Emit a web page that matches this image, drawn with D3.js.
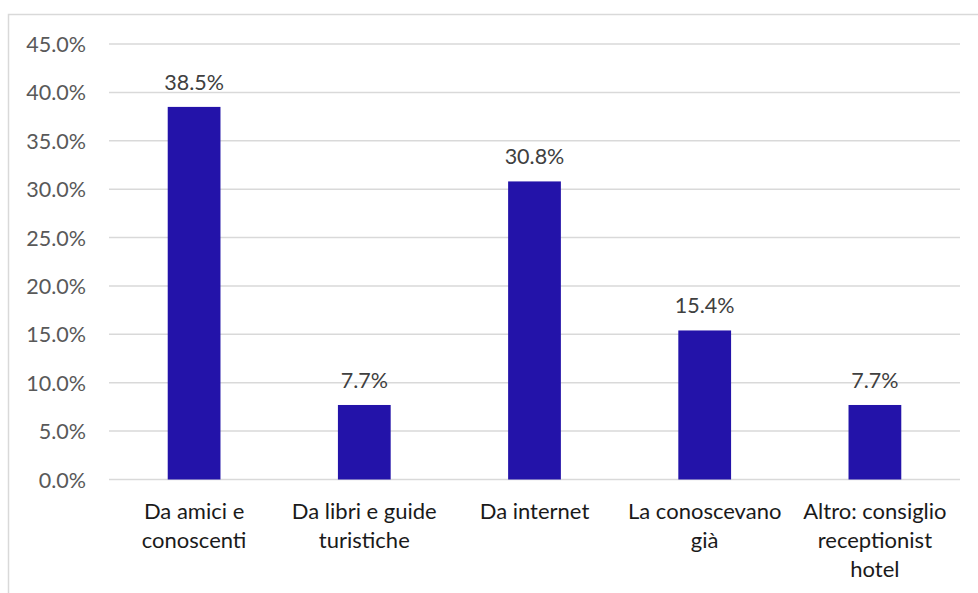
<!DOCTYPE html>
<html>
<head>
<meta charset="utf-8">
<script src="https://cdn.jsdelivr.net/npm/d3@7"></script>
<style>
  html, body { margin: 0; padding: 0; background: #fff; }
  svg { display: block; }
</style>
</head>
<body>
<svg id="chart" width="978" height="593"></svg>
<script>
// Come hanno conosciuto il luogo: quote percentuali per canale
const categories = [
  "Da amici e conoscenti",
  "Da libri e guide turistiche",
  "Da internet",
  "La conoscevano già",
  "Altro: consiglio receptionist hotel"
];
// righe delle etichette di categoria sull'asse x
const categoryLines = [
  ["Da amici e", "conoscenti"],
  ["Da libri e guide", "turistiche"],
  ["Da internet"],
  ["La conoscevano", "già"],
  ["Altro: consiglio", "receptionist", "hotel"]
];
const values = [38.5, 7.7, 30.8, 15.4, 7.7];
const yTicks = [0, 5, 10, 15, 20, 25, 30, 35, 40, 45];

const svg = d3.select("#chart");
const W = 978, H = 593;
const font = "Lato, 'Open Sans', sans-serif";

// cornice esterna del grafico
svg.append("rect")
  .attr("x", 8.5).attr("y", 14.5)
  .attr("width", W + 20).attr("height", H + 20)
  .attr("fill", "none").attr("stroke", "#d9d9d9").attr("stroke-width", 1.5);

const margin = { left: 109, right: 18, top: 44, bottom: 113.5 };
const x = d3.scaleBand()
  .domain(categories)
  .range([margin.left, W - margin.right])
  .paddingInner(0.69).paddingOuter(0.345);
const y = d3.scaleLinear().domain([0, 45]).range([H - margin.bottom, margin.top]);

// griglia orizzontale
svg.append("g")
  .selectAll("line").data(yTicks).join("line")
  .attr("x1", margin.left).attr("x2", W - margin.right)
  .attr("y1", d => y(d)).attr("y2", d => y(d))
  .attr("stroke", "#d9d9d9").attr("stroke-width", 1.5);

// asse y
const yAxis = d3.axisLeft(y).tickValues(yTicks)
  .tickFormat(d => d.toFixed(1) + "%").tickSize(0).tickPadding(0);
const gy = svg.append("g").attr("transform", `translate(${margin.left - 23},0)`).call(yAxis);
gy.select(".domain").remove();
gy.selectAll("text")
  .attr("font-family", font).attr("font-size", 21.5)
  .attr("fill", "#595959").attr("dy", "0.35em");

// barre
svg.append("g")
  .selectAll("rect").data(values).join("rect")
  .attr("x", (d, i) => x(categories[i]))
  .attr("y", d => y(d))
  .attr("width", x.bandwidth())
  .attr("height", d => y(0) - y(d))
  .attr("fill", "#2313a9");

// etichette dei valori
svg.append("g")
  .selectAll("text").data(values).join("text")
  .attr("x", (d, i) => x(categories[i]) + x.bandwidth() / 2)
  .attr("y", d => y(d) - 17)
  .attr("text-anchor", "middle")
  .attr("font-family", font).attr("font-size", 21.5)
  .attr("fill", "#404040")
  .text(d => d.toFixed(1) + "%");

// etichette di categoria su più righe
const cat = svg.append("g")
  .selectAll("text").data(categories).join("text")
  .attr("text-anchor", "middle")
  .attr("font-family", font).attr("font-size", 22)
  .attr("fill", "#1a1a1a")
  .attr("x", d => x(d) + x.bandwidth() / 2)
  .attr("y", 519);
cat.selectAll("tspan").data((d, i) => categoryLines[i]).join("tspan")
  .attr("x", function() { return this.parentNode.getAttribute("x"); })
  .attr("dy", (d, j) => j === 0 ? 0 : 29)
  .text(d => d);
</script>
</body>
</html>
